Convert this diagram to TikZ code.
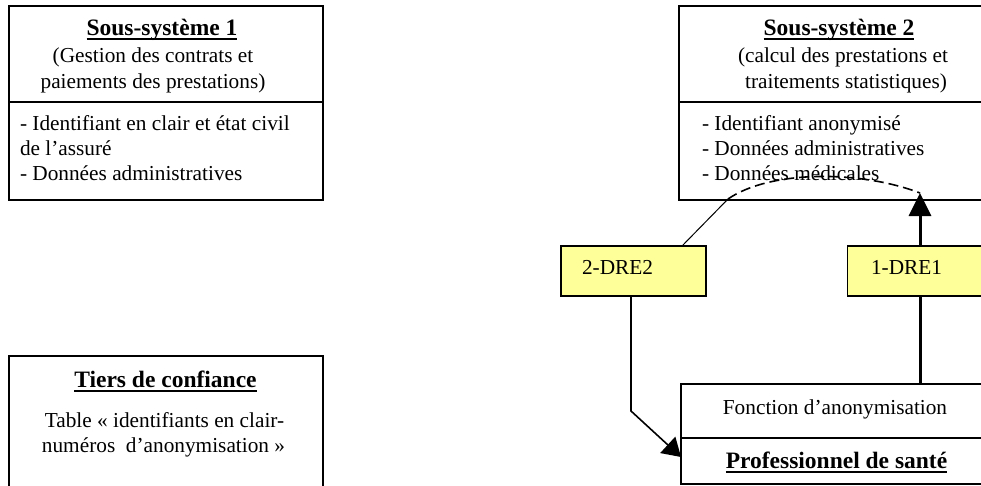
\documentclass[tikz,border=0pt]{standalone}
\usepackage{fontspec}
\setmainfont{Liberation Serif}
\usetikzlibrary{arrows.meta}
\definecolor{dreyellow}{HTML}{FFFF99}
\newcommand\myul[1]{\setbox0\hbox{#1}\rlap{\rule[-4.5pt]{\wd0}{1.8pt}}\box0}
\newcommand\bodyfont{\fontsize{21.3pt}{25pt}\selectfont}
\newcommand\titlefont{\fontsize{23.5pt}{28pt}\selectfont\bfseries}
\begin{document}
\begin{tikzpicture}[x=1pt,y=-1pt,
  boxpart/.style={draw=black,line width=1.6pt,fill=white,inner sep=0pt,outer sep=0pt},
  drebox/.style={draw=black,line width=1.6pt,fill=dreyellow,inner sep=0pt,outer sep=0pt,minimum width=145pt,minimum height=50pt},
  txt/.style={inner sep=0pt,outer sep=0pt,font=\bodyfont},
  ttl/.style={inner sep=0pt,outer sep=0pt,font=\titlefont},
  thinline/.style={line width=1pt},
  midline/.style={line width=1.6pt},
  thickline/.style={line width=3pt},
  dashcurve/.style={line width=1.6pt,dash pattern=on 10pt off 5pt}]
\useasboundingbox (0,0) rectangle (981,485);
\clip (0,0) rectangle (981,485);
% Sous-systeme 1
\node[boxpart,minimum width=314pt,minimum height=96pt] (ss1t) at (166,54) {};
\node[boxpart,minimum width=314pt,minimum height=98pt] (ss1b) at (166,151) {};
\node[ttl,anchor=base] (ss1title) at (162,35) {\myul{Sous-système 1}};
\node[txt,anchor=base] (ss1l1) at (153,62) {(Gestion des contrats et};
\node[txt,anchor=base] (ss1l2) at (153,88) {paiements des prestations)};
\node[txt,anchor=base west] (ss1d1) at (20,130) {- Identifiant en clair et état civil};
\node[txt,anchor=base west] (ss1d2) at (20,155) {de l’assuré};
\node[txt,anchor=base west] (ss1d3) at (20,180) {- Données administratives};
% Sous-systeme 2
\node[boxpart,minimum width=326pt,minimum height=96pt] (ss2t) at (842,54) {};
\node[boxpart,minimum width=326pt,minimum height=98pt] (ss2b) at (842,151) {};
\node[ttl,anchor=base] (ss2title) at (839,35) {\myul{Sous-système 2}};
\node[txt,anchor=base] (ss2l1) at (843,62) {(calcul des prestations et};
\node[txt,anchor=base] (ss2l2) at (846,88) {traitements statistiques)};
\node[txt,anchor=base west] (ss2d1) at (702,130) {- Identifiant anonymisé};
\node[txt,anchor=base west] (ss2d2) at (702,155) {- Données administratives};
\node[txt,anchor=base west] (ss2d3) at (702,180) {- Données médicales};
% Tiers de confiance
\node[boxpart,minimum width=314pt,minimum height=144pt] (tiers) at (166,428) {};
\node[ttl,anchor=base] (tierstitle) at (165.5,387) {\myul{Tiers de confiance}};
\node[txt,anchor=base] (tiersl1) at (164.5,427) {Table «~identifiants en clair-};
\node[txt,anchor=base] (tiersl2) at (163.5,452) {numéros\ \ d’anonymisation~»};
% Professionnel de sante
\node[boxpart,minimum width=309pt,minimum height=54pt] (fonc) at (835.5,411) {};
\node[boxpart,minimum width=309pt,minimum height=46pt] (pro) at (835.5,461) {};
\node[txt,anchor=base] (fonctext) at (835,414) {Fonction d’anonymisation};
\node[ttl,anchor=base] (protext) at (836.5,468) {\myul{Professionnel de santé}};
% DRE boxes
\node[drebox] (dre2) at (633.5,271) {};
\node[drebox] (dre1) at (920,271) {};
\node[txt,anchor=base west] (dre2text) at (582,274) {2-DRE2};
\node[txt,anchor=base west] (dre1text) at (871,274) {1-DRE1};
% connectors
\coordinate (tip) at (920,193);
\coordinate (c1) at (728,199);
\draw[thickline] (fonc.north -| dre1.south) -- (dre1.south);
\draw[thickline,-{Triangle[length=23pt,width=22pt]}] (dre1.north) -- (tip);
\draw[thinline] ([xshift=48.5pt]dre2.north) -- (c1);
\draw[dashcurve] (c1) .. controls (770,170) and (860,170) .. (tip);
\draw[midline,-{Triangle[length=18pt,width=22pt]}] ([xshift=-2.5pt]dre2.south) -- ++(0,115) -- ([yshift=4pt]pro.west);
\end{tikzpicture}
\end{document}
